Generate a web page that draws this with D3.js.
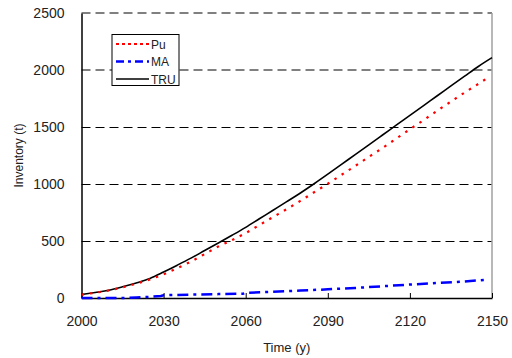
<!DOCTYPE html>
<html><head><meta charset="utf-8">
<script src="https://cdn.jsdelivr.net/npm/d3@7"></script>
<style>body{margin:0;background:#fff}svg{display:block;font-family:"Liberation Sans",Arial,sans-serif}</style>
</head><body><svg id="c" width="512" height="358"></svg>
<script>
const years = [2000,2005,2010,2015,2020,2025,2030,2035,2040,2045,2050,2055,2060,2065,2070,2075,2080,2085,2090,2095,2100,2105,2110,2115,2120,2125,2130,2135,2140,2145,2150];
const tru = [30,48,68,98,132,172,228,288,350,416,482,550,620,695,770,845,921,1002,1086,1172,1258,1344,1430,1516,1602,1688,1774,1860,1946,2031,2108];
const puYears = [2000,2005,2010,2015,2020,2025,2030,2035,2040,2045,2050,2055,2060,2065,2070,2075,2080,2085,2090,2095,2100,2105,2110,2115,2120,2125,2130,2135,2140,2145,2149];
const pu = [29,46,66,94,126,163,208,262,320,385,452,508,570,640,710,780,852,928,1002,1080,1158,1238,1316,1398,1480,1560,1643,1723,1802,1878,1941];
const maYears = [2000,2015,2020,2025,2029,2030,2040,2050,2059,2060,2070,2080,2090,2100,2110,2120,2130,2140,2148];
const ma = [0,0,4,10,17,24,30,34,37,45,55,65,76,88,103,118,132,145,160];
const xTicks = [2000,2030,2060,2090,2120,2150];
const yTicks = [0,500,1000,1500,2000,2500];
const seriesNames = ["Pu","MA","TRU"];

const svg = d3.select("#c");
const L=81.5, R=492, T=13, B=298;
const x = d3.scaleLinear().domain([2000,2150]).range([L,R]);
const y = d3.scaleLinear().domain([0,2500]).range([B,T]);
const txt = "#222";

// gridlines
yTicks.filter(v=>v>0).forEach(v=>{
  const hi = v>=2000;
  const yy = hi ? y(v) : Math.round(y(v))+0.5;
  svg.append("line").attr("x1",L).attr("x2",R).attr("y1",yy).attr("y2",yy)
    .attr("stroke",hi?"#808080":"#000").attr("stroke-width",hi?2:1)
    .attr("stroke-dasharray","9,5");
});
// right border
svg.append("line").attr("x1",R).attr("x2",R).attr("y1",T).attr("y2",B).attr("stroke","#a0a0a0").attr("stroke-width",1.5);

// axes
const xa = svg.append("g").attr("transform",`translate(0,${B})`)
  .call(d3.axisBottom(x).tickValues(xTicks).tickFormat(d3.format("d")).tickSizeInner(-5).tickSizeOuter(0).tickPadding(18));
xa.select(".domain").attr("stroke","#000").attr("stroke-width",1.5);
xa.selectAll(".tick line").attr("stroke","#000");
xa.selectAll("text").attr("font-size",14).attr("fill",txt);

const ya = svg.append("g").attr("transform",`translate(${L},0)`)
  .call(d3.axisLeft(y).tickValues(yTicks).tickFormat(d3.format("d")).tickSize(0).tickPadding(17));
ya.select(".domain").attr("stroke","#000").attr("stroke-width",1.5);
ya.selectAll("text").attr("font-size",14).attr("fill",txt);

// lines
const line = d3.line().x(d=>x(d[0])).y(d=>y(d[1]));
const sline = d3.line().curve(d3.curveMonotoneX).x(d=>x(d[0])).y(d=>y(d[1]));
svg.append("path").datum(maYears.map((t,i)=>[t,ma[i]])).attr("d",line)
  .attr("fill","none").attr("stroke","#0000ff").attr("stroke-width",2.5).attr("stroke-dasharray","11,5,3,5");
svg.append("path").datum(years.map((t,i)=>[t,tru[i]])).attr("d",sline)
  .attr("fill","none").attr("stroke","#000").attr("stroke-width",1.6);
svg.append("path").datum(puYears.map((t,i)=>[t,pu[i]])).attr("d",sline)
  .attr("fill","none").attr("stroke","#ff0000").attr("stroke-width",2.2).attr("stroke-dasharray","2.5,6");

// axis titles
svg.append("text").attr("x",(L+R)/2).attr("y",352).attr("text-anchor","middle")
  .attr("font-size",13).attr("fill",txt).text("Time (y)");
svg.append("text").attr("transform",`translate(23,${(T+B)/2}) rotate(-90)`).attr("text-anchor","middle")
  .attr("font-size",12).attr("fill",txt).text("Inventory (t)");

// legend
const lg = svg.append("g");
lg.append("rect").attr("x",112).attr("y",34.5).attr("width",67).attr("height",51)
  .attr("fill","#fff").attr("stroke","#000").attr("stroke-width",1);
const styles = [
  {c:"#ff0000",w:2,da:"3,3"},
  {c:"#0000ff",w:2.5,da:"8,4,3,4"},
  {c:"#000",w:1.6,da:null}
];
seriesNames.forEach((n,i)=>{
  const yy = 44 + i*17.5;
  const l = lg.append("line").attr("x1",116).attr("x2",149).attr("y1",yy).attr("y2",yy)
    .attr("stroke",styles[i].c).attr("stroke-width",styles[i].w);
  if(styles[i].da) l.attr("stroke-dasharray",styles[i].da);
  lg.append("text").attr("x",151).attr("y",yy+4.5).attr("font-size",12).attr("fill",txt).text(n);
});
</script></body></html>
